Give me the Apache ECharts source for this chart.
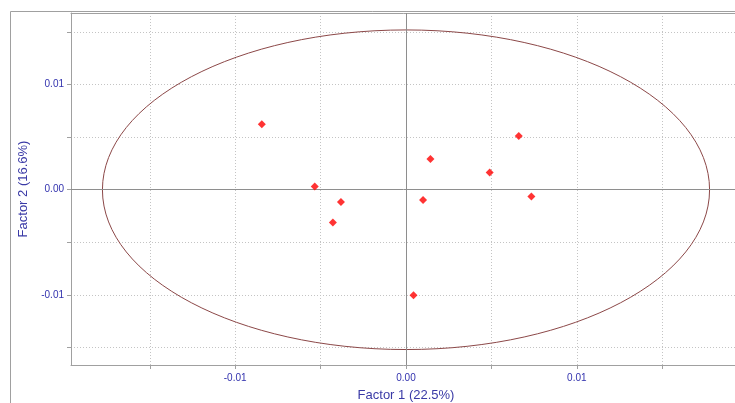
<!DOCTYPE html>
<html>
<head>
<meta charset="utf-8">
<title>Factor scores</title>
<script src="https://cdn.jsdelivr.net/npm/echarts@6/dist/echarts.min.js"></script>
<style>
  html, body { margin: 0; padding: 0; background: #ffffff; overflow: hidden; }
  #chart { width: 735px; height: 403px; }
</style>
</head>
<body>
<div id="chart"></div>
<script>
// Sample scores on the first two factors
const factor1 = [-0.00844, -0.00534, -0.00381, -0.00428, 0.00044, 0.00100, 0.00143, 0.00490, 0.00660, 0.00734];
const factor2 = [0.00622, 0.00031, -0.00117, -0.00311, -0.01003, -0.00098, 0.00292, 0.00165, 0.00511, -0.00064];

// Confidence ellipse (centre and semi-axes, in factor units)
const ellipseCenter = [0, 0];
const ellipseRadii = [0.01777, 0.0152];

// Axis ticks and labels
const xTicks = [-0.015, -0.01, -0.005, 0, 0.005, 0.01, 0.015];
const yTicks = [-0.015, -0.01, -0.005, 0, 0.005, 0.01, 0.015];
const xLabels = [-0.01, 0, 0.01];
const yLabels = [-0.01, 0, 0.01];
const xRange = [-0.01961, 0.01961];
const yRange = [-0.01667, 0.01681];
const xTitle = 'Factor 1 (22.5%)';
const yTitle = 'Factor 2 (16.6%)';

const points = factor1.map((v, i) => [v, factor2[i]]);

const labelColor = '#3232ae';
const titleColor = '#3a3aa6';
const axisColor = '#a0a0a0';
const gridColor = '#c4c4c4';

function fmt(v) {
  const s = Number(v).toFixed(2);
  return s === '-0.00' ? '0.00' : s;
}

const chart = echarts.init(document.getElementById('chart'), null, { renderer: 'canvas' });

chart.setOption({
  animation: false,
  backgroundColor: '#ffffff',
  textStyle: { fontFamily: 'Liberation Sans, Arial, sans-serif' },
  graphic: [{
    // outer panel frame (left and top edges)
    type: 'polyline',
    shape: { points: [[10.5, 403], [10.5, 11.5], [735, 11.5]] },
    style: { fill: null, stroke: axisColor, lineWidth: 1 },
    silent: true,
    z: -10
  }],
  // the plot runs a few pixels past the right edge of the canvas
  grid: { left: 71, right: -6, top: 13, bottom: 38, containLabel: false, outerBoundsMode: 'none' },
  xAxis: [{
    type: 'value',
    position: 'bottom',
    min: xRange[0], max: xRange[1],
    name: xTitle,
    nameLocation: 'middle',
    nameGap: 24,
    nameTextStyle: { color: titleColor, fontSize: 13, fontFamily: 'Liberation Sans, Arial, sans-serif' },
    axisLine: { show: true, onZero: false, lineStyle: { color: axisColor, width: 1 } },
    axisTick: { show: true, inside: false, length: 4, customValues: xTicks, lineStyle: { color: axisColor } },
    axisLabel: { customValues: xLabels, formatter: fmt, color: labelColor, fontSize: 10, margin: 8 },
    splitLine: { show: true, lineStyle: { color: gridColor, type: [1, 2], width: 1 } }
  }, {
    type: 'value',
    position: 'top',
    min: xRange[0], max: xRange[1],
    axisLine: { show: true, onZero: false, lineStyle: { color: axisColor, width: 1 } },
    axisTick: { show: false },
    axisLabel: { show: false },
    splitLine: { show: false }
  }],
  yAxis: {
    type: 'value',
    position: 'left',
    min: yRange[0], max: yRange[1],
    name: yTitle,
    nameLocation: 'middle',
    nameGap: 32,
    nameTextStyle: { color: titleColor, fontSize: 13, fontFamily: 'Liberation Sans, Arial, sans-serif' },
    axisLine: { show: true, onZero: false, lineStyle: { color: axisColor, width: 1 } },
    axisTick: { show: true, inside: false, length: 4, customValues: yTicks, lineStyle: { color: axisColor } },
    axisLabel: { customValues: yLabels, formatter: fmt, color: labelColor, fontSize: 10, margin: 7 },
    splitLine: { show: true, lineStyle: { color: gridColor, type: [1, 2], width: 1 } }
  },
  series: [{
    // zero cross-hairs
    type: 'scatter',
    data: [],
    silent: true,
    markLine: {
      silent: true,
      symbol: 'none',
      animation: false,
      label: { show: false },
      lineStyle: { color: '#8e8e8e', type: 'solid', width: 1 },
      data: [{ xAxis: 0 }, { yAxis: 0 }]
    }
  }, {
    // confidence ellipse drawn through the axes' own scales
    type: 'custom',
    silent: true,
    data: [[ellipseCenter[0], ellipseCenter[1], ellipseRadii[0], ellipseRadii[1]]],
    renderItem: function (params, api) {
      const c = api.coord([api.value(0), api.value(1)]);
      const size = api.size([api.value(2), api.value(3)]);
      return {
        type: 'ellipse',
        shape: { cx: c[0], cy: c[1], rx: size[0], ry: size[1] },
        style: { fill: 'none', stroke: '#8c4848', lineWidth: 1 }
      };
    },
    z: 3
  }, {
    type: 'scatter',
    data: points,
    symbol: 'diamond',
    symbolSize: 8,
    itemStyle: { color: '#ff0000' },
    z: 5
  }]
});
</script>
</body>
</html>
